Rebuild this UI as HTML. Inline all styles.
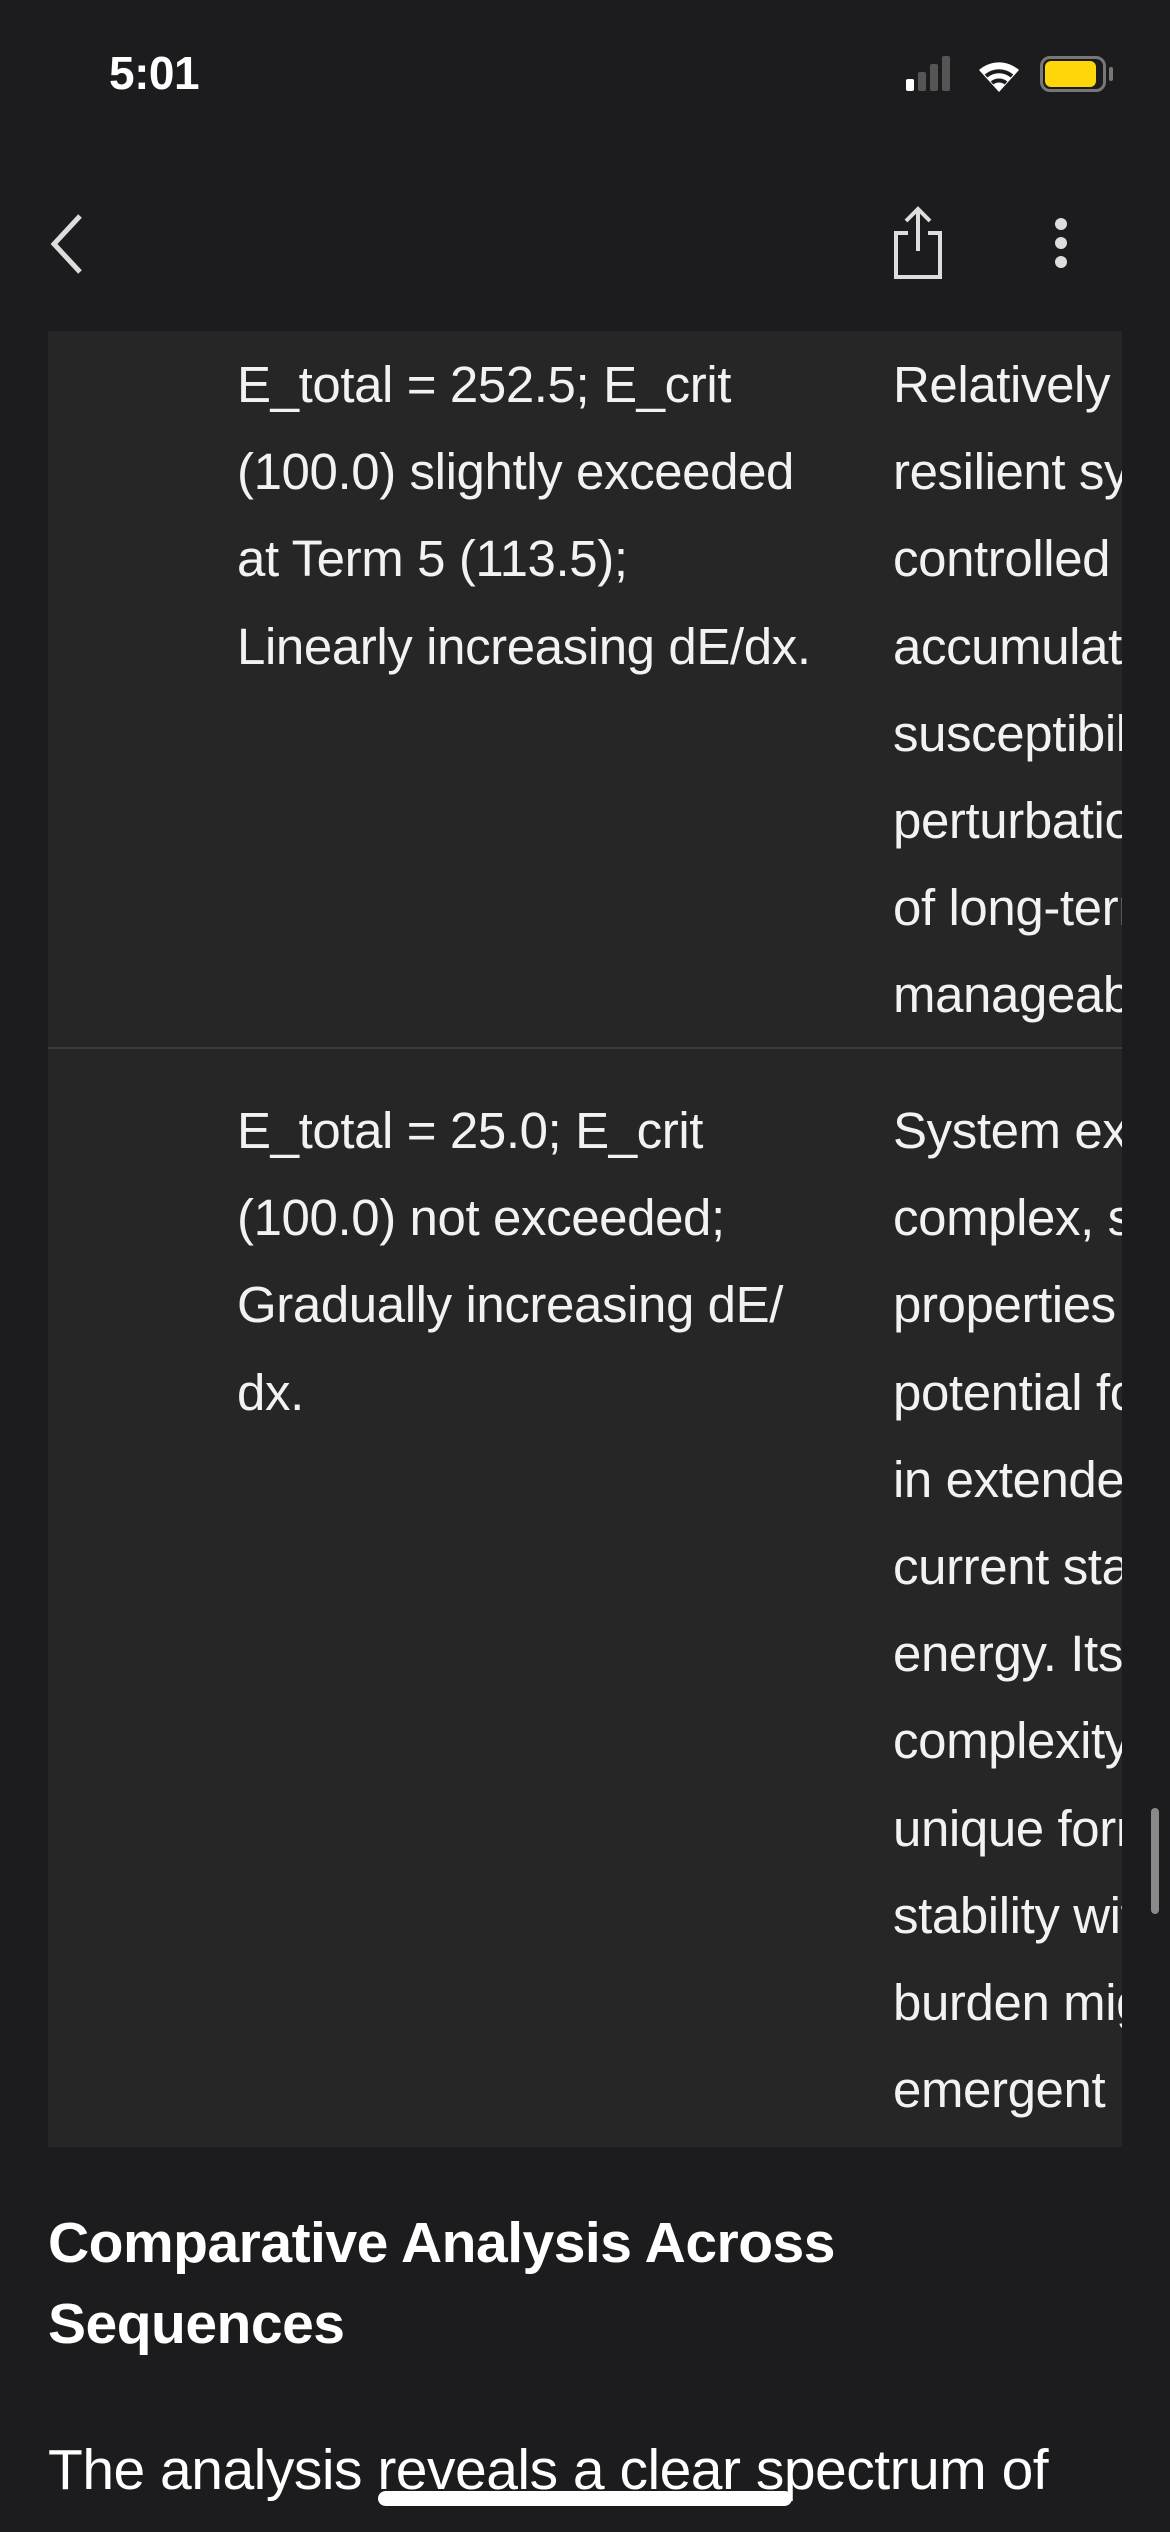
<!DOCTYPE html>
<html><head><meta charset="utf-8"><style>
*{margin:0;padding:0;box-sizing:border-box}
body{width:1170px;height:2532px;background:#1c1c1e;color:#fff;font-family:"Liberation Sans",sans-serif;position:relative;overflow:hidden}
.abs{position:absolute}
.t{white-space:nowrap;font-size:51px;line-height:87.2px;color:#f2f2f2;letter-spacing:-0.4px}
</style></head><body>
<div class="abs" style="left:109px;top:46px;font-size:46px;font-weight:bold;letter-spacing:-0.5px">5:01</div>
<div class="abs" style="left:906px;top:79px;width:8px;height:12px;background:#fff;border-radius:2px"></div>
<div class="abs" style="left:918px;top:72px;width:8px;height:19px;background:#555;border-radius:2px"></div>
<div class="abs" style="left:930px;top:64px;width:8px;height:27px;background:#555;border-radius:2px"></div>
<div class="abs" style="left:942px;top:56px;width:8px;height:35px;background:#555;border-radius:2px"></div>
<svg class="abs" style="left:975px;top:54px" width="48" height="40" viewBox="0 0 48 40"><path d="M24 38 L4 16 A30 30 0 0 1 44 16 Z" fill="#fff"/><path d="M11 22 A20 20 0 0 1 37 22" stroke="#1c1c1e" stroke-width="4" fill="none"/><path d="M17 29 A11 11 0 0 1 31 29" stroke="#1c1c1e" stroke-width="4" fill="none"/></svg>
<div class="abs" style="left:1040px;top:56px;width:66px;height:36px;border:3px solid #777;border-radius:10px"></div>
<div class="abs" style="left:1045px;top:61px;width:51px;height:26px;background:#ffd60a;border-radius:6px"></div>
<div class="abs" style="left:1109px;top:67px;width:4px;height:14px;background:#777;border-radius:2px"></div>
<svg class="abs" style="left:44px;top:212px" width="44" height="64"><path d="M36 4 L10 32 L36 60" stroke="#ddd" stroke-width="5" fill="none"/></svg>
<svg class="abs" style="left:890px;top:205px" width="56" height="76"><path d="M28 4 V46 M16 16 L28 4 L40 16" stroke="#ddd" stroke-width="4" fill="none"/><path d="M18 28 H6 V72 H50 V28 H38" stroke="#ddd" stroke-width="4" fill="none"/></svg>
<div class="abs" style="left:1055px;top:218px;width:12px;height:12px;border-radius:6px;background:#ddd"></div>
<div class="abs" style="left:1055px;top:237px;width:12px;height:12px;border-radius:6px;background:#ddd"></div>
<div class="abs" style="left:1055px;top:256px;width:12px;height:12px;border-radius:6px;background:#ddd"></div>
<div class="abs" style="left:48px;top:331px;width:1074px;height:1816px;background:#262626;overflow:hidden">
 <div class="abs" style="left:0;top:716px;width:1074px;height:2px;background:#3c3c3c"></div>
 <div class="abs t" style="left:189px;top:10px">E_total = 252.5; E_crit<br>(100.0) slightly exceeded<br>at Term 5 (113.5);<br>Linearly increasing dE/dx.</div>
 <div class="abs t" style="left:845px;top:10px">Relatively<br>resilient system<br>controlled<br>accumulation<br>susceptibility<br>perturbations<br>of long-term<br>manageable</div>
 <div class="abs t" style="left:189px;top:756px">E_total = 25.0; E_crit<br>(100.0) not exceeded;<br>Gradually increasing dE/<br>dx.</div>
 <div class="abs t" style="left:845px;top:756px">System exhibits<br>complex, stable<br>properties<br>potential for<br>in extended<br>current state<br>energy. Its<br>complexity<br>unique form<br>stability with<br>burden might<br>emergent</div>
</div>
<div class="abs" style="left:1151px;top:1808px;width:8px;height:106px;background:#8a8a8a;border-radius:4px"></div>
<div class="abs" style="left:48px;top:2203px;font-size:57px;font-weight:bold;line-height:81px;letter-spacing:-0.5px">Comparative Analysis Across<br>Sequences</div>
<div class="abs" style="left:48px;top:2434px;font-size:57px;line-height:72px;white-space:nowrap;letter-spacing:-0.5px">The analysis reveals a clear spectrum of</div>
<div class="abs" style="left:378px;top:2491px;width:414px;height:15px;background:#fff;border-radius:8px"></div>
</body></html>
